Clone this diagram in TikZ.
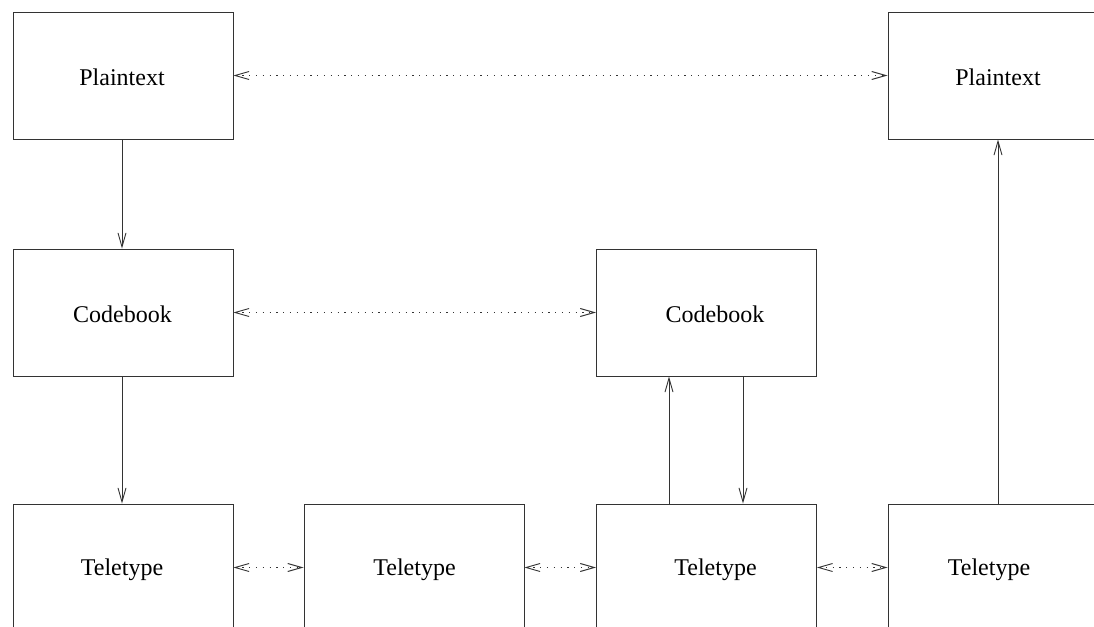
\documentclass[tikz,border=0pt]{standalone}
\usepackage{fontspec}
\setmainfont{Liberation Serif}
\usetikzlibrary{arrows.meta}
\begin{document}
\begin{tikzpicture}[x=1pt,y=-1pt,
  box/.style={draw=black!80, line width=0.9pt, rectangle, minimum width=220pt, minimum height=127pt, inner sep=0pt},
  lbl/.style={font=\fontsize{24}{28}\selectfont, inner sep=0pt},
  link/.style={draw=black!80, line width=0.9pt, -{Straight Barb[length=14pt,width=8pt]}},
  pair/.style={draw=black!80, line width=1pt, dash pattern=on 1.2pt off 5.6pt, {Straight Barb[length=14pt,width=8pt,line width=0.9pt]}-{Straight Barb[length=14pt,width=8pt]}}
]
\useasboundingbox (0,0) rectangle (1094,626);
\clip (0,0) rectangle (1094,626);
\fill[white] (0,0) rectangle (1094,626);
\node[box] (p1) at (123,75.5) {};
\node[box] (p2) at (998,75.5) {};
\node[box] (c1) at (123,312.5) {};
\node[box] (c2) at (706.5,312.5) {};
\node[box] (t1) at (123,567.5) {};
\node[box] (t2) at (414,567.5) {};
\node[box] (t3) at (706.5,567.5) {};
\node[box] (t4) at (998,567.5) {};
\node[lbl] (lp1) at (122,77) {Plaintext};
\node[lbl] (lp2) at (998,77) {Plaintext};
\node[lbl] (lc1) at (122.5,314) {Codebook};
\node[lbl] (lc2) at (715,314) {Codebook};
\node[lbl] (lt1) at (122,570) {Teletype};
\node[lbl] (lt2) at (414.5,570) {Teletype};
\node[lbl] (lt3) at (715.5,570) {Teletype};
\node[lbl] (lt4) at (989,570) {Teletype};
\draw[pair] (p1.east) -- (p2.west);
\draw[pair] (c1.east) -- (c2.west);
\draw[pair] (t1.east) -- (t2.west);
\draw[pair] (t2.east) -- (t3.west);
\draw[pair] (t3.east) -- (t4.west);
\draw[link] ([xshift=-1pt]p1.south) -- ([xshift=-1pt]c1.north);
\draw[link] ([xshift=-1pt]c1.south) -- ([xshift=-1pt]t1.north);
\draw[link] ([xshift=-37.5pt]t3.north) -- ([xshift=-37.5pt]c2.south);
\draw[link] ([xshift=36.5pt]c2.south) -- ([xshift=36.5pt]t3.north);
\draw[link] (t4.north) -- (p2.south);
\end{tikzpicture}
\end{document}
